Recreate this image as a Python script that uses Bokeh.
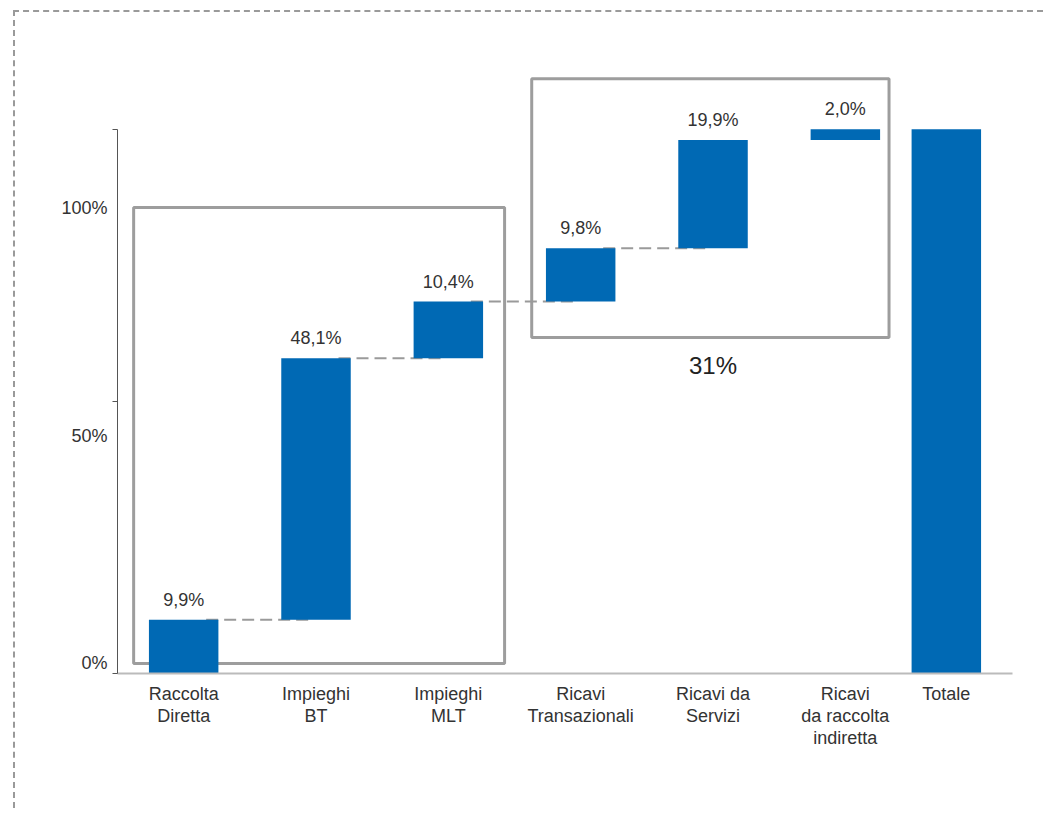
import numpy as np
from bokeh.plotting import figure
from bokeh.models import (FactorRange, Range1d, LinearAxis, FixedTicker,
                          ColumnDataSource)
from bokeh.transform import dodge
from bokeh.embed import file_html
from bokeh.resources import INLINE
from bokeh.core.properties import value

# ---------------- data ----------------
categories = ["Raccolta\nDiretta", "Impieghi\nBT", "Impieghi\nMLT",
              "Ricavi\nTransazionali", "Ricavi da\nServizi",
              "Ricavi\nda raccolta\nindiretta", "Totale"]
step_values = [9.9, 48.1, 10.4, 9.8, 19.9, 2.0]
group_total_text = "31%"
y_tick_values = [0, 50, 100]
y_tick_labels = ["0%", "50%", "100%"]

# ---------------- style ----------------
BLUE = "#0069B4"
BOX_GRAY = "#9d9d9d"
DASH_GRAY = "#9a9a9a"
TEXT = "#333333"
FONT = "Liberation Sans"
Y_MAX = 112.0
TOTAL_GAP = -0.237   # the total bar sits a bit closer to the steps

# components grouped apart from the total (group labels hidden)
factors = [("componenti", c) for c in categories[:6]] + [("totale", categories[6])]

steps = np.array(step_values)
tops = np.cumsum(steps)
bottoms = tops - steps
total = float(tops[-1])

bar_src = ColumnDataSource(dict(
    cat=factors,
    bottom=list(bottoms) + [0.0],
    top=list(tops) + [total],
))
lab_src = ColumnDataSource(dict(
    cat=factors[:6],
    top=list(tops),
    label=[f"{v:.1f}".replace(".", ",") + "%" for v in step_values],
))
conn_src = ColumnDataSource(dict(
    cat=factors[:4],
    nxt=factors[1:5],
    y=list(tops[:4]),
))

xr = FactorRange(*factors, group_padding=TOTAL_GAP, range_padding=0)
p = figure(x_range=xr, y_range=Range1d(0, Y_MAX),
           width=1030, height=798, output_backend="svg", toolbar_location=None,
           min_border_left=102, min_border_right=33, min_border_top=52,
           min_border_bottom=137)
p.outline_line_color = None
p.xgrid.grid_line_color = None
p.ygrid.grid_line_color = None
p.background_fill_color = "white"
p.border_fill_color = "white"
p.margin = (10, 0, 0, 13)
p.styles = {"border-top": f"2px dashed {DASH_GRAY}",
            "border-left": f"2px dashed {DASH_GRAY}"}

# label scale for the y tick texts (as placed in the original)
lab_a, lab_b = 1.84, 0.838
p.extra_y_ranges = {"lab": Range1d(-lab_a / lab_b, (Y_MAX - lab_a) / lab_b)}

# y axis: line + ticks
ya = p.yaxis[0]
ya.ticker = FixedTicker(ticks=y_tick_values, minor_ticks=[])
ya.bounds = (0, 100)
ya.major_label_overrides = {t: "" for t in y_tick_values}
ya.major_label_standoff = 0
ya.major_tick_out = 5
ya.major_tick_in = 0
ya.axis_line_color = "#555555"
ya.major_tick_line_color = "#555555"

yb = LinearAxis(y_range_name="lab", ticker=FixedTicker(ticks=y_tick_values, minor_ticks=[]))
yb.major_label_overrides = dict(zip(y_tick_values, y_tick_labels))
yb.axis_line_color = None
yb.major_tick_line_color = None
yb.minor_tick_line_color = None
yb.major_tick_out = 0
yb.major_tick_in = 0
yb.major_label_standoff = 5
yb.major_label_text_font = FONT
yb.major_label_text_font_size = "18px"
yb.major_label_text_color = TEXT
p.add_layout(yb, "left")

xa = p.xaxis[0]
xa.axis_line_color = "#bbbbbb"
xa.axis_line_width = 2
xa.major_tick_line_color = None
xa.minor_tick_line_color = None
xa.major_label_standoff = 4
xa.major_label_text_font = FONT
xa.major_label_text_font_size = "18px"
xa.major_label_text_color = TEXT
xa.major_label_text_line_height = 1.1
xa.group_text_color = None
xa.group_text_font_size = "1px"
xa.separator_line_color = None

# group boxes
box1 = ColumnDataSource(dict(first=[factors[0]], last=[factors[2]], b=[1.84], t=[85.7]))
box2 = ColumnDataSource(dict(first=[factors[3]], last=[factors[5]], b=[61.8], t=[109.4]))
p.quad(left=dodge("first", -0.378, range=xr), right=dodge("last", 0.425, range=xr),
       bottom="b", top="t", source=box1, fill_color=None,
       line_color=BOX_GRAY, line_width=3)
p.quad(left=dodge("first", -0.37, range=xr), right=dodge("last", 0.33, range=xr),
       bottom="b", top="t", source=box2, fill_color=None,
       line_color=BOX_GRAY, line_width=3)

# connectors
p.segment(x0=dodge("cat", 0.17, range=xr), y0="y",
          x1=dodge("nxt", -0.04, range=xr), y1="y",
          source=conn_src, line_color=DASH_GRAY, line_width=2, line_dash="12 6")

# bars
p.vbar(x="cat", bottom="bottom", top="top", width=0.525, source=bar_src,
       fill_color=BLUE, line_color=None)

# value labels
p.text(x="cat", y="top", text="label", source=lab_src, text_align="center",
       text_baseline="bottom", y_offset=-10, text_font=value(FONT),
       text_font_size="18px", text_color=TEXT)

# group share label
share_src = ColumnDataSource(dict(x=[factors[4]], y=[61.8], text=[group_total_text]))
p.text(x="x", y="y", text="text", source=share_src, text_align="center",
       text_baseline="top", y_offset=15, text_font=value(FONT),
       text_font_size="24px", text_color="#222222")

open("out.html", "w").write(file_html(p, INLINE))
